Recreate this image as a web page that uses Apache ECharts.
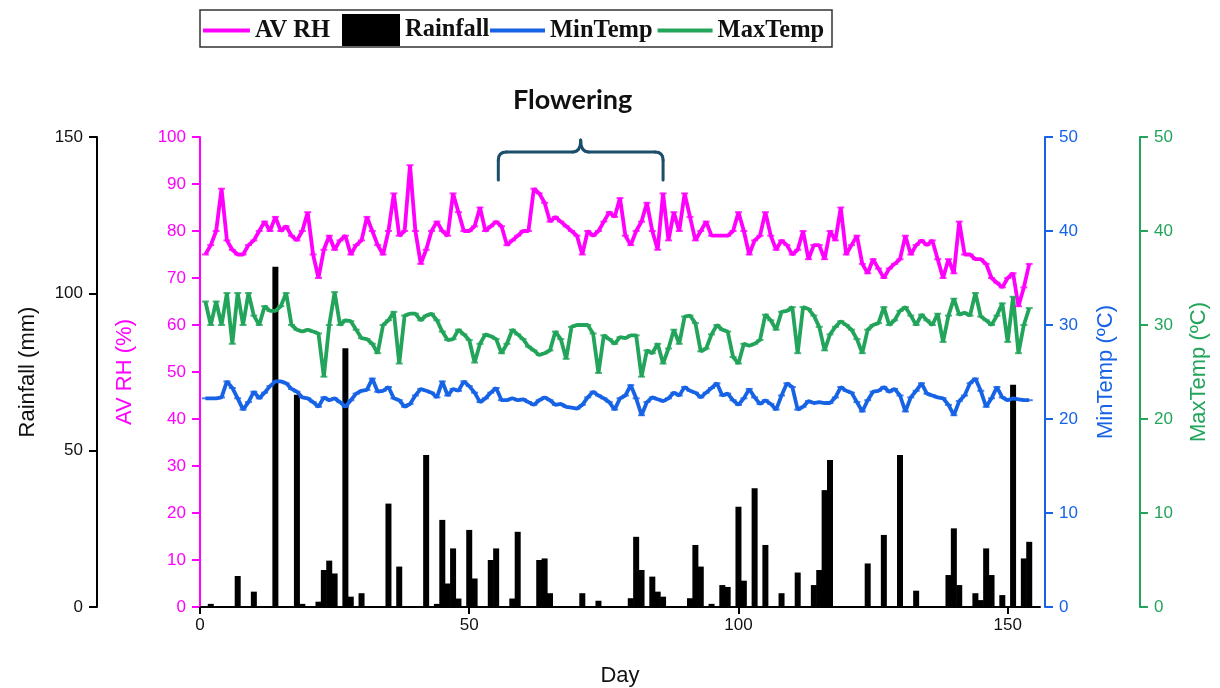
<!DOCTYPE html>
<html><head><meta charset="utf-8">
<script src="https://cdn.jsdelivr.net/npm/echarts@6/dist/echarts.min.js"></script>
<style>html,body{margin:0;padding:0;background:#fff}#c{width:1220px;height:688px}</style>
</head><body><div id="c"></div>
<script>
// Daily rainfall (mm), days 1..154
const rainfall = [
  0,1,0,0,0,0,9.9,0,0,4.9,
  0,0,0,108.6,0,0,0,67.7,1,0,
  0,1.7,11.8,14.8,10.7,0,82.6,3.3,0,4.4,
  0,0,0,0,33,0,12.9,0,0,0,
  0,48.5,0,1,27.8,7.5,18.7,2.7,0,24.6,
  9.1,0,0,15,18.7,0,0,2.7,24,0,
  0,0,15,15.5,4.4,0,0,0,0,0,
  4.4,0,0,2,0,0,0,0,0,2.8,
  22.4,11.8,0,9.7,4.9,3.3,0,0,0,0,
  2.8,19.8,12.9,0,1,0,7,6.4,0,32,
  8.4,0,37.9,0,19.8,0,0,4.4,0,0,
  11,0,0,7,11.8,37.3,46.9,0,0,0,
  0,0,0,13.9,0,0,23,0,0,48.5,
  0,0,5.2,0,0,0,0,0,10.2,25.1,
  7,0,0,4.4,2.2,18.7,10.2,0,3.8,0,
  70.9,0,15.5,20.8
];
// Average relative humidity (%)
const avRH = [
  75,77,80,89,78,76,75,75,77,78,
  80,82,80,83,80,81,79,78,80,84,
  75,70,76,79,76,78,79,75,77,78,
  83,80,77,75,80,88,79,80,94,80,
  73,76,80,82,80,79,88,84,80,80,
  81,85,80,81,82,81,77,78,79,80,
  80,89,88,86,82,83,82,81,80,79,
  75,80,79,80,82,84,83,87,79,77,
  80,82,86,80,76,88,78,84,80,88,
  83,78,80,82,79,79,79,79,80,84,
  80,75,78,79,84,79,76,78,77,75,
  76,80,74,77,77,74,80,78,85,75,
  77,79,73,71,74,72,70,72,73,74,
  79,75,77,78,77,78,74,70,74,71,
  82,75,75,74,74,73,70,69,68,70,
  71,64,68,73
];
// Minimum temperature (°C)
const minTemp = [
  22.2,22.2,22.2,22.3,24,23.3,22.2,21,21.8,22.9,
  22.2,22.8,23.5,24,24,23.8,23.2,22.9,22.3,22.2,
  21.8,21.3,22.3,22,22.2,21.8,21.3,22,22.7,23,
  23.1,24.3,22.9,23,23.4,22.2,22,21.3,21.6,22.5,
  23.2,23,22.8,22.3,24,22.5,23.2,23,24,23.5,
  22.8,21.8,22.2,22.8,23.3,22,22,22.2,22,22.1,
  21.8,21.5,22,22.3,22,21.5,21.6,21.3,21.2,21.1,
  21.5,22.3,22.9,22.5,22.2,21.8,21,22.2,22.5,23.6,
  22.2,20.4,21.8,22.3,22.1,21.9,22.2,22.8,22.5,23.4,
  23,22.8,22.3,22.8,23.3,23.8,22.5,22.7,22,21.5,
  22.2,23.2,22.3,21.6,22,21.6,21,22.5,23.8,23.4,
  21,21.3,21.9,21.7,21.8,21.7,21.7,22.3,23.4,23,
  22.8,21.8,20.8,22,22.9,23,23.4,22.9,23.2,22.5,
  20.8,22.3,23,23.8,22.7,22.5,22.3,22.2,21.5,20.4,
  21.9,22.5,23.8,24.3,23,21.3,22.2,23.4,22.3,22,
  22.2,22.1,22,22
];
// Maximum temperature (°C)
const maxTemp = [
  32.5,30,32.5,30,33.4,28,33.4,30,33.4,31,
  30,32,31.5,31.5,32,33.4,30,29.5,29.3,29.5,
  29.3,29.1,24.5,30,33.5,30,30.5,30.4,29.5,28.6,
  28.5,28,27,30,30.5,31.4,25.9,31,31.2,31.2,
  30.5,31,31.2,30.5,29.3,28.4,28.5,29.5,29,28.4,
  26,28,29,28.8,28.5,27,28,29.5,29,28.5,
  27.7,27.3,26.8,27,27.3,29.3,28.5,26.4,29.8,30,
  30,30,29.1,24.9,28.9,28.5,28,28.7,28.6,28.9,
  28.9,24.5,27.3,27,28,25.9,27.5,29.5,28,30.9,
  31,30.2,27.2,27.5,29,30,29.5,29.3,26.6,25.9,
  28,27.8,28,28.4,31.1,30.5,29.5,31.4,31.5,31.9,
  27,31.9,31.7,31,29.8,27.3,29,29.8,30.4,30,
  29.5,28.5,27,29.5,30,30.2,31.9,30,30.5,31.5,
  31.9,31,30,31.1,30.5,30,31.2,28.2,31,32.8,
  31.1,31.3,31,33.4,30.9,30.5,30,31,32.3,28.2,
  33,27,30,31.8
];
const days = avRH.map((_, i) => i + 1);
const flowering = { label: 'Flowering', startDay: 55.4, endDay: 86 };

const MAG = '#FF00FF', BLUE = '#1763E6', GREEN = '#22A45A', BLACK = '#000000';
const pairs = arr => days.map((d, i) => [d, arr[i]]);
const FONT = 'Liberation Sans, Arial, sans-serif';
const LEG_TEXT = { fontFamily: 'Liberation Serif, Times New Roman, serif', fontWeight: 'bold', fontSize: 24.5, color: '#111' };

function yAx(opts) {
  return Object.assign({
    type: 'value', nameLocation: 'middle', nameRotate: 90,
    splitLine: { show: false },
    axisLine: { show: true, onZero: false, lineStyle: { color: opts.color, width: 2 } },
    axisTick: { show: true, length: 8, lineStyle: { color: opts.color, width: 2 } },
    axisLabel: { color: opts.color, fontSize: 17, fontFamily: FONT, margin: 14 },
    nameTextStyle: { color: opts.color, fontSize: 22, fontFamily: FONT }
  }, opts.o);
}

const chart = echarts.init(document.getElementById('c'));
const option = {
  backgroundColor: '#fff',
  animation: false,
  grid: { left: 200, right: 180, top: 137, bottom: 81, outerBoundsMode: 'none', containLabel: false },
  legend: [
    { left: 203, top: 18, data: ['AV RH'], icon: 'rect', itemWidth: 47, itemHeight: 4, padding: 0, textStyle: LEG_TEXT },
    { left: 342, top: 14, data: ['Rainfall'], icon: 'rect', itemWidth: 58, itemHeight: 32, padding: 0, textStyle: Object.assign({}, LEG_TEXT, { padding: [4, 0, 0, 0] }) },
    { left: 490, top: 18, data: ['MinTemp', 'MaxTemp'], icon: 'rect', itemWidth: 55, itemHeight: 4, itemGap: 5, padding: 0, textStyle: LEG_TEXT }
  ],
  xAxis: {
    type: 'value', min: 0, max: 156, interval: 50,
    name: 'Day', nameLocation: 'middle', nameGap: 58,
    nameTextStyle: { color: '#111', fontSize: 22, fontFamily: FONT },
    splitLine: { show: false },
    axisLine: { onZero: false, lineStyle: { color: BLACK, width: 2 } },
    axisTick: { length: 7, lineStyle: { color: BLACK, width: 2 } },
    axisLabel: { color: '#111', fontSize: 17, fontFamily: FONT, margin: 10, showMaxLabel: false }
  },
  yAxis: [
    yAx({ color: BLACK, o: { min: 0, max: 150, interval: 50, position: 'left', offset: 103, name: 'Rainfall (mm)', nameGap: 58,
      axisLabel: { color: '#111', fontSize: 17, fontFamily: FONT, margin: 14 }, nameTextStyle: { color: '#111', fontSize: 22, fontFamily: FONT } } }),
    yAx({ color: MAG, o: { min: 0, max: 100, interval: 10, position: 'left', offset: 0, name: 'AV RH (%)', nameGap: 64 } }),
    yAx({ color: BLUE, o: { min: 0, max: 50, interval: 10, position: 'right', offset: 5, name: 'MinTemp (ºC)', nameGap: 50 } }),
    yAx({ color: GREEN, o: { min: 0, max: 50, interval: 10, position: 'right', offset: 100, name: 'MaxTemp (ºC)', nameGap: 48 } })
  ],
  series: [
    { name: 'Rainfall', type: 'bar', yAxisIndex: 0, data: pairs(rainfall), barWidth: 6,
      itemStyle: { color: BLACK }, z: 1 },
    { name: 'AV RH', type: 'line', yAxisIndex: 1, data: pairs(avRH), symbol: 'none',
      lineStyle: { color: MAG, width: 3.8 }, itemStyle: { color: MAG }, z: 3 },
    { name: 'MinTemp', type: 'line', yAxisIndex: 2, data: pairs(minTemp), symbol: 'none',
      lineStyle: { color: BLUE, width: 3.8 }, itemStyle: { color: BLUE }, z: 3 },
    { name: 'MaxTemp', type: 'line', yAxisIndex: 3, data: pairs(maxTemp), symbol: 'none',
      lineStyle: { color: GREEN, width: 3.8 }, itemStyle: { color: GREEN }, z: 3 },
    { name: 'rhCaps', type: 'scatter', yAxisIndex: 1, data: pairs(avRH), symbol: 'rect', symbolSize: [7, 2], silent: true, itemStyle: { color: MAG }, z: 4 },
    { name: 'minCaps', type: 'scatter', yAxisIndex: 2, data: pairs(minTemp), symbol: 'rect', symbolSize: [7, 2], silent: true, itemStyle: { color: BLUE }, z: 4 },
    { name: 'maxCaps', type: 'scatter', yAxisIndex: 3, data: pairs(maxTemp), symbol: 'rect', symbolSize: [7, 2], silent: true, itemStyle: { color: GREEN }, z: 4 }
  ]
};
chart.setOption(option);

const x1 = chart.convertToPixel({ xAxisIndex: 0 }, flowering.startDay);
const x2 = chart.convertToPixel({ xAxisIndex: 0 }, flowering.endDay);
const xm = (x1 + x2) / 2;
const yb = 180, yh = 152, yt = 140, r = 8;
const BR = { stroke: '#1B4E6B', lineWidth: 3, fill: null, lineCap: 'round' };
const seg = (a, b, c, d) => ({ type: 'line', shape: { x1: a, y1: b, x2: c, y2: d }, style: BR, z: 10 });
const crv = (a, b, cx, cy, c, d) => ({ type: 'bezierCurve', shape: { x1: a, y1: b, cpx1: cx, cpy1: cy, x2: c, y2: d }, style: BR, z: 10 });
chart.setOption({
  graphic: [
    { type: 'rect', shape: { x: 200, y: 10, width: 632, height: 37 }, style: { fill: null, stroke: '#333', lineWidth: 1.5 }, z: 10 },
    seg(x1, yb, x1, yh + r),
    crv(x1, yh + r, x1, yh, x1 + r, yh),
    seg(x1 + r, yh, xm - r, yh),
    crv(xm - r, yh, xm, yh, xm, yt),
    crv(xm, yt, xm, yh, xm + r, yh),
    seg(xm + r, yh, x2 - r, yh),
    crv(x2 - r, yh, x2, yh, x2, yh + r),
    seg(x2, yh + r, x2, yb),
    { type: 'text', x: xm - 8, y: 100, style: { text: flowering.label, font: 'bold 27px Lato, "Open Sans", sans-serif', fill: '#111', align: 'center', verticalAlign: 'middle' }, z: 10 }
  ]
});
</script>
</body></html>
